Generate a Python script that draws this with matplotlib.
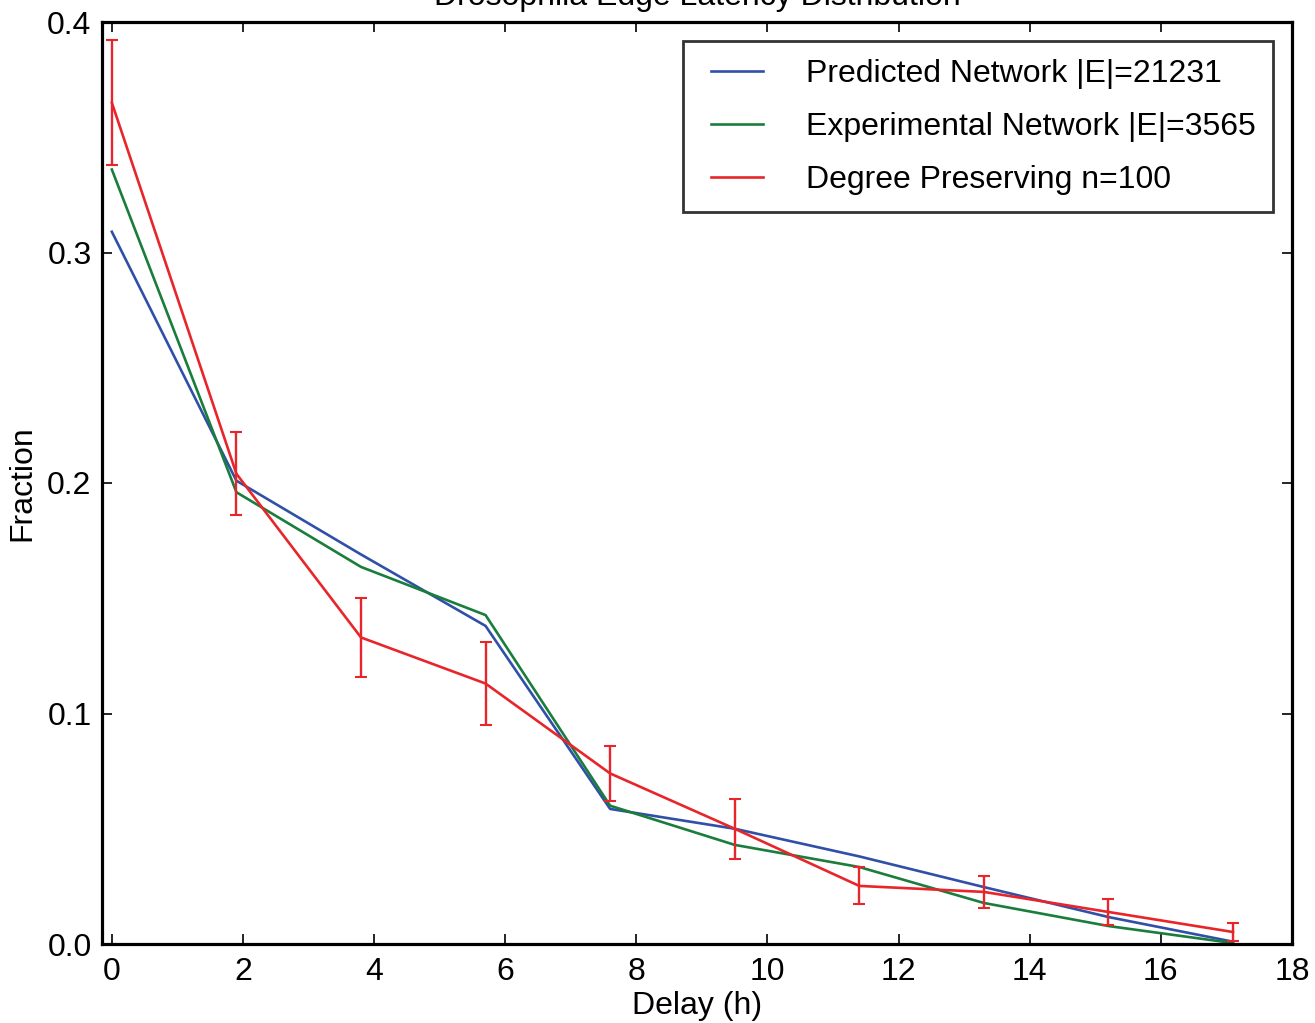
import matplotlib
matplotlib.use("Agg")
import matplotlib.pyplot as plt
from matplotlib.lines import Line2D
from matplotlib.legend_handler import HandlerLine2D

delay = [0.0, 1.9, 3.8, 5.7, 7.6, 9.5, 11.4, 13.3, 15.2, 17.1]
predicted = [0.309, 0.201, 0.169, 0.138, 0.0586, 0.050, 0.038, 0.0247, 0.0117, 0.001]
experimental = [0.336, 0.196, 0.1636, 0.1427, 0.060, 0.043, 0.0334, 0.0178, 0.0078, 0.0004]
degree_pres = [0.365, 0.204, 0.133, 0.113, 0.074, 0.050, 0.0252, 0.0226, 0.0139, 0.0052]
degree_err = [0.027, 0.018, 0.017, 0.018, 0.012, 0.013, 0.008, 0.007, 0.0056, 0.0037]

labels = ["Predicted Network |E|=21231",
          "Experimental Network |E|=3565",
          "Degree Preserving n=100"]
colors = ['#3050a8', '#1a7d3c', '#e8252a']
xticks = [0, 2, 4, 6, 8, 10, 12, 14, 16, 18]
yticks = [0.0, 0.1, 0.2, 0.3, 0.4]

plt.rcParams['font.family'] = ['Liberation Sans', 'DejaVu Sans']
FS = 23


class ShiftedLine(HandlerLine2D):
    def create_artists(self, legend, orig_handle, xdescent, ydescent,
                       width, height, fontsize, trans):
        shift = 0.3 * fontsize
        return super().create_artists(legend, orig_handle, xdescent - shift,
                                      ydescent, width - shift, height,
                                      fontsize, trans)


fig = plt.figure(figsize=(13.15, 10.23), dpi=100)
ax = fig.add_axes([102/1315, 79/1023, (1292-102)/1315, (944-22)/1023])

ax.plot(delay, predicted, color=colors[0], lw=1.9)
ax.plot(delay, experimental, color=colors[1], lw=1.9)
ax.errorbar(delay, degree_pres, yerr=degree_err, color=colors[2], lw=1.9,
            elinewidth=1.7, capsize=4.5, capthick=1.5)

ax.set_xlim(-0.15, 18)
ax.set_ylim(0, 0.4)
ax.set_xticks(xticks)
ax.set_yticks(yticks)
ax.set_xticklabels([str(t) for t in xticks])
ax.set_yticklabels([f"{t:.1f}" for t in yticks])
ax.tick_params(direction='in', length=7, width=1.2, top=True, right=True,
               labelsize=FS, pad=7.5)
ax.tick_params(axis='x', pad=9)
for s in ax.spines.values():
    s.set_linewidth(2.3)

ax.set_xlabel("Delay (h)", fontsize=FS, labelpad=3)
ax.set_ylabel("Fraction", fontsize=FS, labelpad=7)
ax.set_title("Drosophila Edge Latency Distribution", fontsize=FS, pad=12)

handles = [Line2D([], [], color=c, lw=1.9) for c in colors]
leg = ax.legend(handles, labels, loc='upper right', fontsize=FS, frameon=True,
                fancybox=False, handlelength=1.95, handletextpad=1.32,
                labelspacing=0.72, borderaxespad=0.6, borderpad=0.55,
                handler_map={Line2D: ShiftedLine()})
leg.get_frame().set_edgecolor('black')
leg.get_frame().set_linewidth(2)

fig.savefig("out.png", dpi=100)
